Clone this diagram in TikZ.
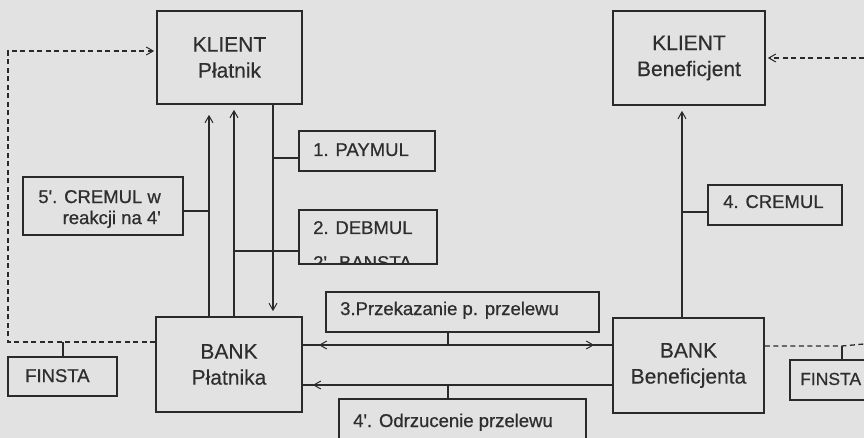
\documentclass[tikz,border=0pt]{standalone}
\usepackage{fontspec}
\setmainfont{Liberation Sans}[FakeBold=0.3]
\newfontfamily\tagfont{Liberation Sans}[FakeBold=0.7]
\usetikzlibrary{arrows.meta,decorations.markings}
\definecolor{paper}{HTML}{E2E2E2}
\definecolor{ink}{HTML}{2A2A2A}
\definecolor{txt}{HTML}{2E2E2E}
\begin{document}
\begin{tikzpicture}[x=1pt,y=-1pt,
  party/.style={draw=ink, line width=1.7pt, inner sep=0pt, align=center,
    text=txt, font=\fontsize{21}{26}\selectfont},
  tagbox/.style={draw=ink, line width=1.3pt, inner sep=0pt},
  tagtext/.style={anchor=base west, inner sep=0pt, text=txt,
    font=\tagfont\fontsize{18.5}{21}\selectfont},
  flow/.style={draw=ink, line width=1.6pt},
  tick/.style={draw=ink, line width=1.1pt},
  dashflow/.style={draw=ink, line width=1.3pt, dash pattern=on 5pt off 3.5pt},
  tip/.style={-{Straight Barb[length=7pt,width=8pt,line width=1pt]}},
  backtip/.style={postaction={decorate,decoration={markings,
    mark=at position #1 with {\arrowreversed{Straight Barb[length=7pt,width=8pt,line width=1pt]}}}}},
  fwdtip/.style={postaction={decorate,decoration={markings,
    mark=at position #1 with {\arrow{Straight Barb[length=7pt,width=8pt,line width=1pt]}}}}},
]
\useasboundingbox (0,0) rectangle (864,438);
\fill[paper] (0,0) rectangle (864,438);
\clip (0,0) rectangle (864,438);

% parties
\node[party, minimum width=145pt, minimum height=93pt] (kp) at (229.5,57.5) {KLIENT\\Płatnik};
\node[party, minimum width=152pt, minimum height=94pt] (kb) at (689,58) {KLIENT\\Beneficjent};
\node[party, minimum width=146pt, minimum height=95pt] (bp) at (229,364.5) {BANK\\Płatnika};
\node[party, minimum width=151pt, minimum height=95pt] (bb) at (688.5,365.5) {BANK\\Beneficjenta};

% message boxes
\node[tagbox, minimum width=136pt, minimum height=40pt] (pay) at (367,151) {};
\node[tagtext] (payT) at (313,156) {1. PAYMUL};
\node[tagbox, minimum width=138pt, minimum height=54pt] (deb) at (368,237) {};
\node[tagtext] (debT) at (313,234) {2. DEBMUL};
\begin{scope}
  \clip ([shift={(1pt,1pt)}]deb.south west) rectangle ([shift={(-1pt,-1pt)}]deb.north east);
  \node[tagtext] (banT) at (313,269) {2'. BANSTA};
\end{scope}
\node[tagbox, minimum width=160pt, minimum height=58pt] (cr5) at (103,206) {};
\node[anchor=east, inner sep=0pt, align=right, text=txt,
  font=\tagfont\fontsize{18.5}{21}\selectfont] (cr5T) at (161,209) {5'. CREMUL w\\reakcji na 4'};
\node[tagbox, minimum width=109pt, minimum height=39pt] (fl) at (62.5,376.5) {};
\node[tagtext] (flT) at (25,382) {FINSTA};
\node[tagbox, minimum width=273pt, minimum height=40pt] (prz) at (462.5,312) {};
\node[tagtext] (przT) at (340,315) {3.Przekazanie p. przelewu};
\node[tagbox, minimum width=247pt, minimum height=56pt] (odr) at (462.5,427) {};
\node[tagtext] (odrT) at (353,427) {4'. Odrzucenie przelewu};
\node[tagbox, minimum width=134pt, minimum height=40pt] (cr4) at (775,205) {};
\node[tagtext] (cr4T) at (723,208) {4. CREMUL};
\node[tagbox, minimum width=100pt, minimum height=40pt] (fr) at (840,380) {};
\node[tagtext, font=\tagfont\fontsize{17.5}{21}\selectfont] (frT) at (800,385) {FINSTA};

% reference positions of the vertical and horizontal runs
\coordinate (xa) at (209,0);
\coordinate (xb) at (234,0);
\coordinate (xc) at (273,0);
\coordinate (xd) at (682,0);
\coordinate (xm) at (448,0);
\coordinate (ytop) at (0,51);
\coordinate (ydash) at (0,342);
\coordinate (ypay) at (0,158);
\coordinate (ydeb) at (0,251);
\coordinate (ycr5) at (0,211);
\coordinate (ycr4) at (0,212);
\coordinate (ysend) at (0,345);
\coordinate (yback) at (0,385);
\coordinate (edgeTop) at (864,58);
\coordinate (edgeBot) at (864,344);
\coordinate (fltap) at (63,342);
\coordinate (frtap) at (842,346);

% payer side
\draw[flow, tip, shorten >=10pt] (bp.north -| xa) -- (kp.south -| xa);
\draw[flow, tip, shorten >=5pt] (bp.north -| xb) -- (kp.south -| xb);
\draw[flow, tip, shorten >=5pt] (kp.south -| xc) -- (bp.north -| xc);
\draw[tick] (xc |- ypay) -- (pay.west |- ypay);
\draw[tick] (xb |- ydeb) -- (deb.west |- ydeb);
\draw[tick] (cr5.east |- ycr5) -- (xa |- ycr5);

% beneficiary side
\draw[flow, tip, shorten >=5pt] (bb.north -| xd) -- (kb.south -| xd);
\draw[tick] (xd |- ycr4) -- (cr4.west |- ycr4);

% bank to bank
\draw[flow, backtip=16pt, fwdtip=-18pt] (bp.east |- ysend) -- (bb.west |- ysend);
\draw[flow, backtip=10pt] (bp.east |- yback) -- (bb.west |- yback);
\draw[tick] (prz.south -| xm) -- (xm |- ysend);
\draw[tick] (xm |- yback) -- (odr.north -| xm);

% statements
\draw[dashflow, tip, shorten >=2pt] (bp.west |- ydash) -- (8,342) -- (8,51) -- (kp.west |- ytop);
\draw[tick] (fltap) -- (fltap |- fl.north);
\draw[dashflow, tip, shorten >=2pt] (edgeTop) -- (kb.east |- edgeTop);
\draw[dashflow] (bb.east |- frtap) -- (frtap) -- (edgeBot);
\draw[tick] (frtap) -- (frtap |- fr.north);
\end{tikzpicture}
\end{document}
